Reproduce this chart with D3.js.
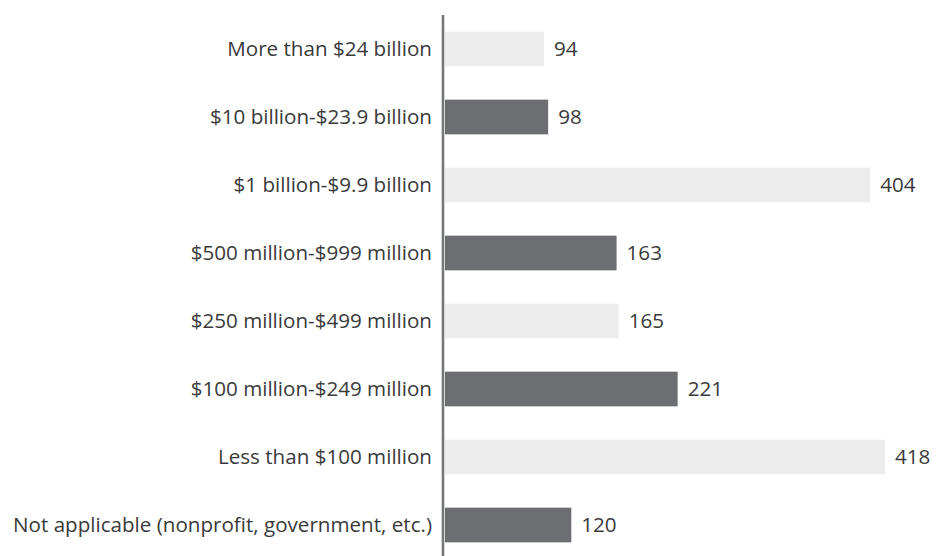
<!DOCTYPE html>
<html>
<head>
<meta charset="utf-8">
<script src="https://cdn.jsdelivr.net/npm/d3@7"></script>
<style>
  html, body { margin: 0; padding: 0; background: #ffffff; }
  svg { display: block; }
  text { font-family: "Open Sans", "Noto Sans", sans-serif; fill: #3a3a3a; }
</style>
</head>
<body>
<svg id="chart" width="939" height="556"></svg>
<script>
// Revenue bands and respondent counts
const categories = [
  "More than $24 billion",
  "$10 billion-$23.9 billion",
  "$1 billion-$9.9 billion",
  "$500 million-$999 million",
  "$250 million-$499 million",
  "$100 million-$249 million",
  "Less than $100 million",
  "Not applicable (nonprofit, government, etc.)"
];
const counts = [94, 98, 404, 163, 165, 221, 418, 120];

const svg = d3.select("#chart");
const width = 939, height = 556;
const axisX = 443;
const fontSize = 20.6;

const x = d3.scaleLinear().domain([0, 418]).range([445, 885]);
const y = d3.scaleBand()
  .domain(categories)
  .range([15, 559])
  .paddingInner(0.49)
  .paddingOuter(0.245);

const fills = ["#ececec", "#6d6e71"];
const data = categories.map((c, i) => ({ cat: c, value: counts[i], i }));

// bars, alternating light and dark
svg.append("g").selectAll("rect")
  .data(data)
  .join("rect")
  .attr("x", x(0))
  .attr("y", d => y(d.cat))
  .attr("width", d => x(d.value) - x(0))
  .attr("height", y.bandwidth())
  .attr("fill", d => fills[d.i % 2]);

// category labels on the left
svg.append("g").selectAll("text")
  .data(data)
  .join("text")
  .attr("x", axisX - 11)
  .attr("y", d => y(d.cat) + y.bandwidth() / 2)
  .attr("dy", "0.36em")
  .attr("text-anchor", "end")
  .attr("font-size", fontSize)
  .text(d => d.cat);

// value labels at the end of each bar
svg.append("g").selectAll("text")
  .data(data)
  .join("text")
  .attr("x", d => x(d.value) + 10)
  .attr("y", d => y(d.cat) + y.bandwidth() / 2)
  .attr("dy", "0.36em")
  .attr("font-size", fontSize)
  .text(d => d.value);

// vertical baseline
svg.append("line")
  .attr("x1", axisX).attr("x2", axisX)
  .attr("y1", y.range()[0]).attr("y2", height)
  .attr("stroke", "#76777a")
  .attr("stroke-width", 2.6);
</script>
</body>
</html>
